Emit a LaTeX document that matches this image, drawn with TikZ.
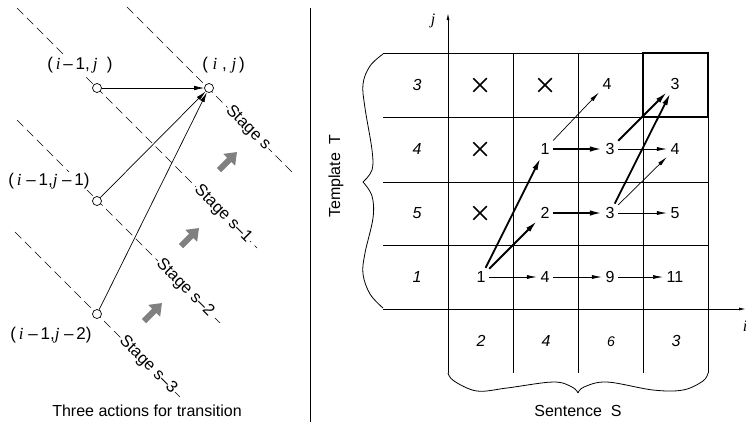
\documentclass[tikz,border=0pt]{standalone}
\usepackage{fontspec}
\setmainfont{Liberation Sans}
\newfontfamily\varfont{Liberation Serif}
\usetikzlibrary{arrows.meta,shapes.misc}
\newcommand\mvi{{\varfont\itshape i}}
\newcommand\mvj{{\varfont\itshape j}}
\begin{document}
\begin{tikzpicture}[x=1pt,y=-1pt,
  font=\fontsize{16}{19}\selectfont,
  stagedash/.style={dash pattern=on 9pt off 5pt, line width=0.6pt},
  stagelabel/.style={fill=white, inner sep=1pt, rotate=-45, font=\fontsize{16.5}{19}\selectfont},
  state/.style={circle, draw, fill=white, minimum size=9pt, inner sep=0pt, line width=0.7pt},
  statelabel/.style={font=\fontsize{17}{20}\selectfont, fill=white, inner sep=1pt},
  trans/.style={-{Latex[length=10pt,width=4.5pt]}, line width=0.7pt},
  push/.style={line width=6pt, draw=gray, -{Triangle[length=11pt,width=16pt]}},
  gridline/.style={line width=0.8pt},
  axis/.style={line width=0.9pt, -{Latex[length=7pt,width=3pt]}},
  cell/.style={inner sep=3.5pt},
  weight/.style={font=\fontsize{16}{19}\selectfont\itshape},
  blocked/.style={cross out, draw, minimum size=12pt, inner sep=0pt, line width=1.5pt},
  thinstep/.style={-{Latex[length=10pt,width=4pt]}, line width=0.7pt},
  thickstep/.style={-{Latex[length=12pt,width=5.5pt]}, line width=1.8pt},
  bracepath/.style={line width=0.8pt}]
\useasboundingbox (0,0) rectangle (746,426);

% ---------- left panel: stages and transitions ----------
\draw[stagedash] (127,7) -- (293,173);
\draw[stagedash] (17,8) -- (257,248);
\draw[stagedash] (17,120) -- (220,323);
\draw[stagedash] (15,232) -- (182,399);

\node[stagelabel] (ls0) at (248,128) {Stage s};
\node[stagelabel] (ls1) at (223,214) {Stage s--1};
\node[stagelabel] (ls2) at (185,288) {Stage s--2};
\node[stagelabel] (ls3) at (148,365) {Stage s--3};

\node[state] (p0) at (209,88) {};
\node[state] (p1) at (97,88) {};
\node[state] (p2) at (97,201) {};
\node[state] (p3) at (97,314) {};

\node[statelabel] (t0) at (223.5,65) {(\ \mvi\ ,\ \mvj\,)};
\node[statelabel] (t1) at (80,65) {(\,\mvi\,--\,1,\,\mvj\ \ )};
\node[statelabel] (t2) at (49,181) {(\,\mvi\ --\,1,\mvj\ --\,1)};
\node[statelabel] (t3) at (51,335) {(\,\mvi\ --\,1,\mvj\ --\,2)};

\draw[trans] (p1) -- (p0);
\draw[trans] (p2) -- (p0);
\draw[trans] (p3) -- (p0);

\coordinate (g1a) at (219,170); \coordinate (g1b) at (237,152);
\coordinate (g2a) at (181,246); \coordinate (g2b) at (199,228);
\coordinate (g3a) at (144,321); \coordinate (g3b) at (162,303);
\draw[push] (g1a) -- (g1b);
\draw[push] (g2a) -- (g2b);
\draw[push] (g3a) -- (g3b);

\node (cap1) at (147,411) {Three actions for transition};

% divider
\coordinate (d1) at (310,8); \coordinate (d2) at (310,422);
\draw[line width=0.9pt] (d1) -- (d2);

% ---------- right panel: the matching grid ----------
\foreach \y in {53,117,182,245}
  \draw[gridline] (383,\y) -- (708,\y);
\foreach \x in {513,578,643,708}
  \draw[gridline] (\x,53) -- (\x,373);

\coordinate (yo) at (448,373); \coordinate (yt) at (448,13);
\coordinate (xo) at (383,309); \coordinate (xt) at (746,309);
\draw[axis] (yo) -- (yt);
\draw[axis] (xo) -- (xt);
\node (jl) at (433,21) {\mvj};
\node (il) at (745,326) {\mvi};

\draw[line width=1.7pt] (643,53) rectangle (708,117);

% template weights
\node[weight] (r1) at (417,85) {3};
\node[weight] (r2) at (417,149) {4};
\node[weight] (r3) at (417,213) {5};
\node[weight] (r4) at (417,277) {1};
% sentence weights
\node[weight] (s1) at (481,341) {2};
\node[weight] (s2) at (546,341) {4};
\node[weight, font=\fontsize{14}{17}\selectfont\itshape] (s3) at (611,342) {6};
\node[weight] (s4) at (676,341) {3};

% blocked cells
\node[blocked] (x1) at (480,85) {};
\node[blocked] (x2) at (545,85) {};
\node[blocked] (x3) at (480,149) {};
\node[blocked] (x4) at (480,213) {};

% cell scores
\node[cell] (a13) at (607,84) {4};
\node[cell] (a14) at (675,84) {3};
\node[cell] (a22) at (545,149) {1};
\node[cell] (a23) at (610,149) {3};
\node[cell] (a24) at (675,149) {4};
\node[cell] (a32) at (545,213) {2};
\node[cell] (a33) at (610,213) {3};
\node[cell] (a34) at (675,213) {5};
\node[cell] (a41) at (481,277) {1};
\node[cell] (a42) at (545,277) {4};
\node[cell] (a43) at (610,277) {9};
\node[cell] (a44) at (675,277) {11};

\draw[thinstep] (a41) -- (a42);
\draw[thinstep] (a42) -- (a43);
\draw[thinstep] (a43) -- (a44);
\draw[thinstep] (a33) -- (a34);
\draw[thinstep] (a23) -- (a24);
\draw[thinstep] (a22) -- (a13);
\draw[thinstep] (a33) -- (a24);

\draw[thickstep] (a41) -- (a22);
\draw[thickstep] (a41) -- (a32);
\draw[thickstep] (a32) -- (a33);
\draw[thickstep] (a22) -- (a23);
\draw[thickstep] (a23) -- (a14);
\draw[thickstep] (a33) -- (a14);

% braces
\draw[bracepath] plot[smooth, tension=0.6] coordinates
  {(383,54) (370,66) (363,84) (365,108) (372,150) (372,170) (363,182)};
\draw[bracepath] plot[smooth, tension=0.6] coordinates
  {(363,182) (372,196) (373,218) (365,253) (363,274) (370,294) (383,308)};
\draw[bracepath] plot[smooth, tension=0.6] coordinates
  {(448,373) (454,381) (477,391) (507,388) (553,382) (572,387) (578,393)};
\draw[bracepath] plot[smooth, tension=0.6] coordinates
  {(578,393) (584,387) (607,382) (653,390) (683,390) (703,381) (708,373)};

\node[rotate=90] (tl) at (336,176) {Template\ \ T};
\node (sl) at (578,411) {Sentence\ \ S};
\end{tikzpicture}
\end{document}
